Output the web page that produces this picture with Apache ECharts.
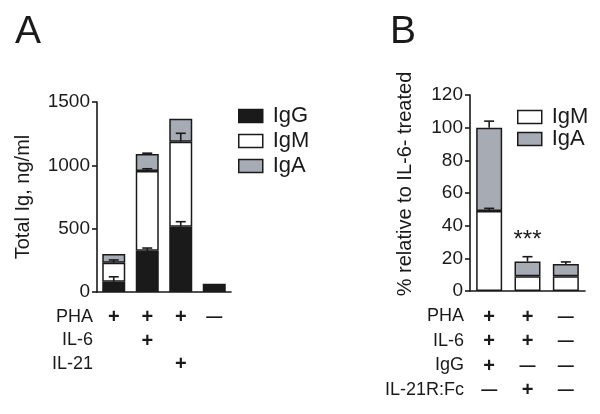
<!DOCTYPE html>
<html lang="en">

<head>
    <meta charset="UTF-8">
    <title>Total Ig</title>
    <script src="https://cdn.jsdelivr.net/npm/echarts@6/dist/echarts.min.js"></script>
    <style>
        html,
        body {
            margin: 0px;
            background-color: #fff;
        }

        #chart {
            width: 600px;
            height: 414px;
        }
    </style>
</head>

<body>
    <div id="chart"></div>
    <script>
        // panel A: total Ig, ng/ml
        var catsA = ['PHA', 'PHA+IL-6', 'PHA+IL-21', 'none'];
        var igG_A = [80, 325, 515, 65];
        var igM_A = [150, 630, 672, 0];
        var igA_A = [70, 135, 180, 0];
        var igG_A_err = [40, 22, 40, 0];
        var igM_A_err = [23, 18, 66, 0];
        var igA_A_err = [0, 6, 0, 0];
        var rowNamesA = ['PHA', 'IL-6', 'IL-21'];
        var rowSymA = [
            ['+', '+', '+', '—'],
            ['', '+', '', ''],
            ['', '', '+', '']
        ];

        // panel B: % relative to IL-6 treated
        var catsB = ['PHA+IL-6+IgG', 'PHA+IL-6+IL-21R:Fc', 'none'];
        var igM_B = [49, 9, 9];
        var igA_B = [51, 9, 7.5];
        var igM_B_err = [1.6, 0, 0];
        var igA_B_err = [4, 3, 1.3];
        var starsB = ['', '***', ''];
        var rowNamesB = ['PHA', 'IL-6', 'IgG', 'IL-21R:Fc'];
        var rowSymB = [
            ['+', '+', '—'],
            ['+', '+', '—'],
            ['+', '—', '—'],
            ['—', '+', '—']
        ];

        var font = 'Liberation Sans';
        var ink = '#1a1a1a';
        var grey = '#a7abb3';
        var gridA = { left: 97, top: 102, width: 134, height: 190 };
        var gridB = { left: 470, top: 95, width: 115, height: 196 };
        var lhA = 23.5, lhB = 24.5;
        var symMargin = 14;

        function symLabel(rows, lh) {
            return {
                interval: 0,
                fontFamily: font,
                color: ink,
                margin: symMargin,
                formatter: function (v, i) {
                    return rows.map(function (r) {
                        var s = r[i];
                        if (s === '+') return '{p|+}';
                        if (s === '—') return '{m|—}';
                        return '{e| }';
                    }).join('\n');
                },
                rich: {
                    p: { fontSize: 20, fontWeight: 'bold', lineHeight: lh, fontFamily: font, color: ink },
                    m: { fontSize: 16, fontWeight: 'bold', lineHeight: lh, fontFamily: font, color: ink },
                    e: { fontSize: 16, lineHeight: lh }
                }
            };
        }

        function cum() {
            var arrs = arguments;
            return arrs[0].map(function (v, i) {
                var s = 0;
                for (var k = 0; k < arrs.length; k++) s += arrs[k][i];
                return s;
            });
        }

        function errData(tops, errs) {
            var out = [];
            tops.forEach(function (t, i) {
                if (errs[i] > 0) out.push([i, t, t + errs[i]]);
            });
            return out;
        }

        function errSeries(x, data, cap) {
            return {
                type: 'custom',
                xAxisIndex: x,
                yAxisIndex: x,
                z: 5,
                silent: true,
                renderItem: function (params, api) {
                    var lo = api.coord([api.value(0), api.value(1)]);
                    var hi = api.coord([api.value(0), api.value(2)]);
                    var st = { stroke: ink, lineWidth: 1.6 };
                    return {
                        type: 'group',
                        children: [
                            { type: 'line', shape: { x1: lo[0], y1: lo[1], x2: hi[0], y2: hi[1] }, style: st },
                            { type: 'line', shape: { x1: hi[0] - cap, y1: hi[1], x2: hi[0] + cap, y2: hi[1] }, style: st }
                        ]
                    };
                },
                data: data
            };
        }

        function zeroDash(arr) {
            return arr.map(function (v) { return v === 0 ? '-' : v; });
        }

        function rowTexts(names, grid, lh, right) {
            return names.map(function (n, i) {
                return {
                    type: 'text',
                    right: 600 - right,
                    top: grid.top + grid.height + symMargin + lh * i + (lh - 20) / 2,
                    style: { text: n, font: '18px "' + font + '"', fill: ink }
                };
            });
        }

        var axisLine = { lineStyle: { color: ink, width: 1.6 } };
        var barBorder = { borderColor: ink, borderWidth: 1.5 };
        var legendText = { fontFamily: font, fontSize: 22, color: ink, padding: [0, 0, 0, 5] };

        var option = {
            animation: false,
            textStyle: { fontFamily: font },
            title: [
                { text: 'A', left: 15, top: 13, padding: 0, textStyle: { fontFamily: font, fontSize: 39, fontWeight: 'normal', color: ink } },
                { text: 'B', left: 390, top: 13, padding: 0, textStyle: { fontFamily: font, fontSize: 39, fontWeight: 'normal', color: ink } }
            ],
            legend: [
                {
                    data: ['IgG', 'IgM', 'IgA'],
                    icon: 'rect',
                    orient: 'vertical',
                    left: 238, top: 105,
                    padding: 0,
                    itemWidth: 24, itemHeight: 13, itemGap: 3,
                    itemStyle: { borderColor: ink, borderWidth: 1.5 },
                    textStyle: legendText
                },
                {
                    data: ['IgM', 'IgA'],
                    icon: 'rect',
                    orient: 'vertical',
                    left: 517, top: 106,
                    padding: 0,
                    itemWidth: 24, itemHeight: 13, itemGap: 0,
                    itemStyle: { borderColor: ink, borderWidth: 1.5 },
                    textStyle: legendText
                }
            ],
            grid: [gridA, gridB],
            xAxis: [
                {
                    type: 'category', gridIndex: 0, data: catsA,
                    axisLine: axisLine,
                    axisTick: { alignWithLabel: true, length: 5, lineStyle: { color: ink, width: 1.6 } },
                    axisLabel: symLabel(rowSymA, lhA)
                },
                {
                    type: 'category', gridIndex: 1, data: catsB,
                    axisLine: axisLine,
                    axisTick: { alignWithLabel: true, length: 5, lineStyle: { color: ink, width: 1.6 } },
                    axisLabel: symLabel(rowSymB, lhB)
                }
            ],
            yAxis: [
                {
                    type: 'value', gridIndex: 0, min: 0, max: 1500, interval: 500,
                    name: 'Total Ig, ng/ml', nameLocation: 'middle', nameGap: 64,
                    nameTextStyle: { fontFamily: font, fontSize: 20, color: ink },
                    axisLine: { show: true, lineStyle: { color: ink, width: 1.6 } },
                    axisTick: { show: true, length: 5, lineStyle: { color: ink, width: 1.6 } },
                    splitLine: { show: false },
                    axisLabel: { fontFamily: font, fontSize: 19, color: ink, margin: 7, formatter: function (v) { return String(v); } }
                },
                {
                    type: 'value', gridIndex: 1, min: 0, max: 120, interval: 20,
                    name: '% relative to IL-6- treated', nameLocation: 'middle', nameGap: 55,
                    nameTextStyle: { fontFamily: font, fontSize: 20, color: ink, padding: [0, 0, 0, 18] },
                    axisLine: { show: true, lineStyle: { color: ink, width: 1.6 } },
                    axisTick: { show: true, length: 5, lineStyle: { color: ink, width: 1.6 } },
                    splitLine: { show: false },
                    axisLabel: { fontFamily: font, fontSize: 19, color: ink, margin: 7 }
                }
            ],
            graphic: rowTexts(rowNamesA, gridA, lhA, 93).concat(rowTexts(rowNamesB, gridB, lhB, 464)),
            series: [
                { name: 'IgG', type: 'bar', stack: 'a', xAxisIndex: 0, yAxisIndex: 0, barWidth: 23, data: zeroDash(igG_A), itemStyle: Object.assign({ color: ink }, barBorder) },
                { name: 'IgM', type: 'bar', stack: 'a', xAxisIndex: 0, yAxisIndex: 0, barWidth: 23, data: zeroDash(igM_A), itemStyle: Object.assign({ color: '#fff' }, barBorder) },
                { name: 'IgA', type: 'bar', stack: 'a', xAxisIndex: 0, yAxisIndex: 0, barWidth: 23, data: zeroDash(igA_A), itemStyle: Object.assign({ color: grey }, barBorder) },
                errSeries(0, errData(igG_A, igG_A_err)
                    .concat(errData(cum(igG_A, igM_A), igM_A_err))
                    .concat(errData(cum(igG_A, igM_A, igA_A), igA_A_err)), 5),

                { name: 'IgM', type: 'bar', stack: 'b', xAxisIndex: 1, yAxisIndex: 1, barWidth: 26, data: igM_B, itemStyle: Object.assign({ color: '#fff' }, barBorder) },
                {
                    name: 'IgA', type: 'bar', stack: 'b', xAxisIndex: 1, yAxisIndex: 1, barWidth: 26,
                    data: igA_B.map(function (v, i) {
                        if (!starsB[i]) return v;
                        return {
                            value: v,
                            label: {
                                show: true, position: 'top', distance: 9, formatter: starsB[i],
                                fontFamily: font, fontSize: 24, color: ink
                            }
                        };
                    }),
                    itemStyle: Object.assign({ color: grey }, barBorder)
                },
                errSeries(1, errData(igM_B, igM_B_err)
                    .concat(errData(cum(igM_B, igA_B), igA_B_err)), 5)
            ]
        };

        var chart = echarts.init(document.getElementById('chart'));
        chart.setOption(option);
    </script>
</body>

</html>
